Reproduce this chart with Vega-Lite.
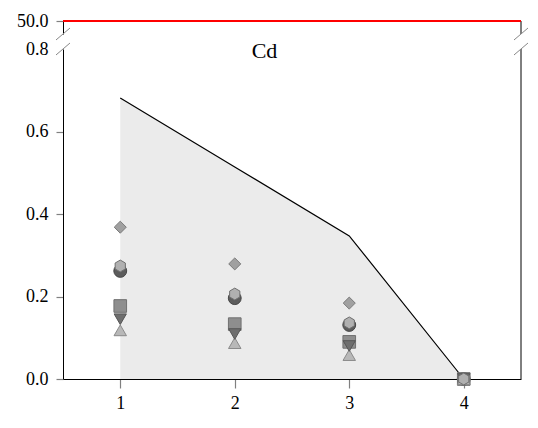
{
  "$schema": "https://vega.github.io/schema/vega-lite/v6.json",
  "padding": {"left": 16, "top": 12, "right": 10, "bottom": 5},
  "background": "white",
  "spacing": 15,
  "bounds": "flush",
  "config": {
    "view": {"stroke": null},
    "font": "Liberation Serif",
    "axis": {
      "grid": false,
      "domainColor": "black",
      "domainWidth": 1,
      "tickColor": "#808080",
      "tickWidth": 1.2,
      "labelFont": "Liberation Serif",
      "labelFontSize": 18,
      "labelColor": "black",
      "title": null
    }
  },
  "datasets": {
    "points": [
      {"group": 1, "marker": "circle", "value": 0.262},
      {"group": 1, "marker": "square", "value": 0.177},
      {"group": 1, "marker": "triangle-up", "value": 0.118},
      {"group": 1, "marker": "triangle-down", "value": 0.145},
      {"group": 1, "marker": "diamond", "value": 0.368},
      {"group": 1, "marker": "hexagon", "value": 0.274},
      {"group": 2, "marker": "circle", "value": 0.196},
      {"group": 2, "marker": "square", "value": 0.133},
      {"group": 2, "marker": "triangle-up", "value": 0.087},
      {"group": 2, "marker": "triangle-down", "value": 0.109},
      {"group": 2, "marker": "diamond", "value": 0.279},
      {"group": 2, "marker": "hexagon", "value": 0.206},
      {"group": 3, "marker": "circle", "value": 0.131},
      {"group": 3, "marker": "square", "value": 0.09},
      {"group": 3, "marker": "triangle-up", "value": 0.058},
      {"group": 3, "marker": "triangle-down", "value": 0.08},
      {"group": 3, "marker": "diamond", "value": 0.184},
      {"group": 3, "marker": "hexagon", "value": 0.136},
      {"group": 4, "marker": "circle", "value": 0},
      {"group": 4, "marker": "square", "value": 0},
      {"group": 4, "marker": "triangle-up", "value": 0},
      {"group": 4, "marker": "triangle-down", "value": 0},
      {"group": 4, "marker": "diamond", "value": 0},
      {"group": 4, "marker": "hexagon", "value": 0}
    ],
    "limit": [
      {"group": 1, "value": 0.681},
      {"group": 2, "value": 0.514},
      {"group": 3, "value": 0.347},
      {"group": 4, "value": 0}
    ],
    "one": [{}]
  },
  "vconcat": [
    {
      "width": 458,
      "height": 13,
      "data": {"name": "one"},
      "layer": [
        {
          "mark": {"type": "rule", "color": "black", "strokeWidth": 1},
          "encoding": {
            "x": {"datum": 4.5, "type": "quantitative", "scale": {"domain": [0.5, 4.5], "nice": false, "zero": false}, "axis": null}
          }
        },
        {
          "mark": {"type": "rule", "color": "red", "strokeWidth": 2},
          "encoding": {
            "y": {
              "datum": 50,
              "type": "quantitative",
              "scale": {"domain": [49, 50], "nice": false, "zero": false},
              "axis": {"values": [50], "format": ".1f", "tickSize": 7, "labelPadding": 8, "labelFont": "Liberation Serif", "labelFontSize": 18, "domainColor": "black"}
            }
          }
        },
        {
          "mark": {"type": "rule", "color": "#888888", "strokeWidth": 1},
          "encoding": {
            "x": {"datum": 0.439, "type": "quantitative"},
            "x2": {"datum": 0.561},
            "y": {"datum": 48.54, "type": "quantitative"},
            "y2": {"datum": 49.46}
          }
        },
        {
          "mark": {"type": "rule", "color": "#888888", "strokeWidth": 1},
          "encoding": {
            "x": {"datum": 4.439, "type": "quantitative"},
            "x2": {"datum": 4.561},
            "y": {"datum": 48.54, "type": "quantitative"},
            "y2": {"datum": 49.46}
          }
        }
      ]
    },
    {
      "width": 458,
      "height": 330,
      "data": {"name": "one"},
      "layer": [
        {
          "data": {"name": "limit"},
          "mark": {"type": "area", "color": "#e2e2e2", "line": {"color": "black", "strokeWidth": 1.2}},
          "encoding": {
            "x": {
              "field": "group",
              "type": "quantitative",
              "scale": {"domain": [0.5, 4.5], "nice": false, "zero": false},
              "axis": {"values": [1, 2, 3, 4], "format": "d", "tickSize": 9, "labelPadding": 6, "labelFont": "Liberation Serif", "labelFontSize": 18}
            },
            "y": {
              "field": "value",
              "type": "quantitative",
              "scale": {"domain": [0, 0.8], "nice": false},
              "axis": {
                "values": [0, 0.2, 0.4, 0.6, 0.8],
                "format": ".1f",
                "tickSize": 7,
                "labelPadding": 8,
                "labelFont": "Liberation Serif",
                "labelFontSize": 18,
                "tickOpacity": {"condition": {"test": "datum.value >= 0.79", "value": 0}, "value": 1}
              }
            }
          }
        },
        {
          "mark": {"type": "rule", "color": "black", "strokeWidth": 1},
          "encoding": {"x": {"datum": 4.5, "type": "quantitative"}}
        },
        {
          "mark": {"type": "rule", "color": "#888888", "strokeWidth": 1},
          "encoding": {
            "x": {"datum": 0.439, "type": "quantitative"},
            "x2": {"datum": 0.561},
            "y": {"datum": 0.7855, "type": "quantitative"},
            "y2": {"datum": 0.8145}
          }
        },
        {
          "mark": {"type": "rule", "color": "#888888", "strokeWidth": 1},
          "encoding": {
            "x": {"datum": 4.439, "type": "quantitative"},
            "x2": {"datum": 4.561},
            "y": {"datum": 0.7855, "type": "quantitative"},
            "y2": {"datum": 0.8145}
          }
        },
        {
          "mark": {"type": "text", "text": "Cd", "font": "Liberation Serif", "fontSize": 22, "color": "black", "baseline": "middle", "align": "center"},
          "encoding": {
            "x": {"datum": 2.26, "type": "quantitative"},
            "y": {"datum": 0.795, "type": "quantitative"}
          }
        },
        {
          "data": {"name": "points"},
          "mark": {"type": "point", "filled": true, "opacity": 1, "strokeWidth": 1},
          "encoding": {
            "x": {"field": "group", "type": "quantitative"},
            "y": {"field": "value", "type": "quantitative"},
            "shape": {
              "field": "marker",
              "type": "nominal",
              "legend": null,
              "scale": {
                "domain": ["circle", "square", "triangle-up", "triangle-down", "diamond", "hexagon"],
                "range": ["circle", "square", "triangle-up", "triangle-down", "diamond", "M0,-1L0.866,-0.5L0.866,0.5L0,1L-0.866,0.5L-0.866,-0.5Z"]
              }
            },
            "size": {
              "field": "marker",
              "type": "nominal",
              "legend": null,
              "scale": {
                "domain": ["circle", "square", "triangle-up", "triangle-down", "diamond", "hexagon"],
                "range": [165, 140, 165, 165, 170, 205]
              }
            },
            "fill": {
              "field": "marker",
              "type": "nominal",
              "legend": null,
              "scale": {
                "domain": ["circle", "square", "triangle-up", "triangle-down", "diamond", "hexagon"],
                "range": ["#5c5c5c", "#8e8e8e", "#b8b8b8", "#6e6e6e", "#a0a0a0", "#b0b0b0"]
              }
            },
            "stroke": {
              "field": "marker",
              "type": "nominal",
              "legend": null,
              "scale": {
                "domain": ["circle", "square", "triangle-up", "triangle-down", "diamond", "hexagon"],
                "range": ["#454545", "#707070", "#8a8a8a", "#555555", "#7a7a7a", "#707070"]
              }
            }
          }
        }
      ]
    }
  ]
}
